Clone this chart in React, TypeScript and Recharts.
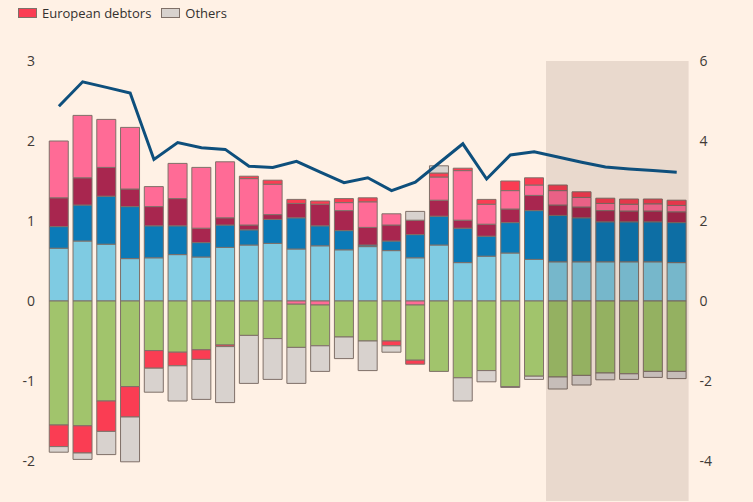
import { ComposedChart, Bar, Line, XAxis, YAxis, ReferenceArea } from "recharts"

const years = [
  2005, 2006, 2007, 2008, 2009, 2010, 2011, 2012, 2013, 2014, 2015, 2016, 2017, 2018,
  2019, 2020, 2021, 2022, 2023, 2024, 2025, 2026, 2027, 2028, 2029, 2030, 2031,
]

// stacked components, % of world GDP (left axis)
const sky = [
  0.66, 0.75, 0.71, 0.53, 0.54, 0.58, 0.55, 0.67, 0.7, 0.72, 0.65, 0.69, 0.64, 0.68,
  0.63, 0.54, 0.7, 0.48, 0.56, 0.6, 0.52, 0.49, 0.49, 0.49, 0.49, 0.49, 0.48,
]
const blue = [
  0.27, 0.45, 0.6, 0.65, 0.4, 0.36, 0.18, 0.28, 0.19, 0.3, 0.39, 0.25, 0.24, 0.02,
  0.12, 0.29, 0.36, 0.43, 0.25, 0.38, 0.61, 0.58, 0.55, 0.5, 0.5, 0.5, 0.5,
]
const wine = [
  0.36, 0.34, 0.36, 0.22, 0.24, 0.34, 0.18, 0.09, 0.06, 0.06, 0.18, 0.27, 0.25, 0.22,
  0.2, 0.18, 0.2, 0.1, 0.15, 0.17, 0.19, 0.13, 0.135, 0.14, 0.135, 0.135, 0.135,
]
const pink = [
  0.71, 0.78, 0.6, 0.77, 0.25, 0.44, 0.76, 0.7, 0.58, 0.38, -0.04, -0.05, 0.1, 0.32,
  0.14, -0.05, 0.29, 0.62, 0.25, 0.23, 0.13, 0.18, 0.12, 0.09, 0.085, 0.09, 0.08,
]
const green = [
  -1.55, -1.56, -1.25, -1.07, -0.62, -0.64, -0.61, -0.55, -0.43, -0.47, -0.54, -0.51, -0.45, -0.5,
  -0.5, -0.69, -0.88, -0.96, -0.87, -1.07, -0.94, -0.95, -0.93, -0.9, -0.91, -0.88, -0.88,
]
const europeanDebtors = [
  -0.27, -0.34, -0.38, -0.38, -0.22, -0.17, -0.12, -0.02, 0.03, 0.05, 0.05, 0.04, 0.05, 0.05,
  -0.06, -0.05, 0.05, 0.03, 0.06, 0.12, 0.09, 0.07, 0.07, 0.065, 0.065, 0.06, 0.065,
]
const others = [
  -0.07, -0.08, -0.29, -0.56, -0.3, -0.44, -0.5, -0.7, -0.6, -0.51, -0.45, -0.32, -0.27, -0.37,
  -0.08, 0.11, 0.09, -0.29, -0.14, -0.01, -0.04, -0.15, -0.12, -0.085, -0.07, -0.075, -0.09,
]

// line, right axis
const total = [
  4.87, 5.48, 5.34, 5.2, 3.54, 3.96, 3.83, 3.79, 3.37, 3.34, 3.49, 3.22, 2.96, 3.08,
  2.76, 2.97, 3.45, 3.93, 3.05, 3.65, 3.73, 3.6, 3.47, 3.35, 3.3, 3.26, 3.22,
]

const leftTicks = [-2, -1, 0, 1, 2, 3]
const rightTicks = [-4, -2, 0, 2, 4, 6]

const data = years.map((year, i) => ({
  year,
  sky: sky[i],
  blue: blue[i],
  wine: wine[i],
  pink: pink[i],
  green: green[i],
  europeanDebtors: europeanDebtors[i],
  others: others[i],
  total: total[i],
}))

const outline = "#7f7068"
const tickStyle = { fill: "#403a36", fontSize: 14 }

const series = [
  { key: "sky", color: "#7fcbe2" },
  { key: "blue", color: "#0b7ab7" },
  { key: "wine", color: "#a8264f" },
  { key: "pink", color: "#ff6b96" },
  { key: "green", color: "#a1c46c" },
  { key: "europeanDebtors", color: "#fa3d53" },
  { key: "others", color: "#d8d2ce" },
]

function LegendItem({ color, label }: { color: string; label: string }) {
  return (
    <span style={{ display: "inline-flex", alignItems: "center", marginRight: 10 }}>
      <span
        style={{
          display: "inline-block",
          width: 17,
          height: 8,
          background: color,
          border: `1px solid ${outline}`,
          marginRight: 5,
        }}
      />
      <span>{label}</span>
    </span>
  )
}

export default function App() {
  return (
    <div
      style={{
        position: "absolute",
        top: 0,
        left: 0,
        width: 753,
        height: 502,
        overflow: "hidden",
        background: "#fff1e5",
        fontFamily: "'Open Sans', sans-serif",
      }}
    >
      <div
        style={{
          position: "absolute",
          top: 4,
          left: 18,
          fontSize: 13,
          color: "#33302e",
          display: "flex",
        }}
      >
        <LegendItem color="#fa3d53" label="European debtors" />
        <LegendItem color="#d8d2ce" label="Others" />
      </div>
      <ComposedChart
        width={753}
        height={502}
        data={data}
        stackOffset="sign"
        barCategoryGap="9.5%"
        margin={{ top: 61, right: 0, bottom: 1, left: 0 }}
      >
        <XAxis dataKey="year" hide />
        <YAxis
          yAxisId="left"
          width={47}
          domain={[-2.5, 3]}
          ticks={leftTicks}
          axisLine={false}
          tickLine={false}
          tickMargin={6}
          tick={tickStyle}
        />
        <YAxis
          yAxisId="right"
          orientation="right"
          width={64.4}
          domain={[-5, 6]}
          ticks={rightTicks}
          axisLine={false}
          tickLine={false}
          tickMargin={5}
          tick={{ ...tickStyle, textAnchor: "start" }}
        />
        {series.map((s) => (
          <Bar
            key={s.key}
            yAxisId="left"
            dataKey={s.key}
            stackId="a"
            fill={s.color}
            stroke={outline}
            strokeWidth={1}
            isAnimationActive={false}
          />
        ))}
        <ReferenceArea
          yAxisId="left"
          x1={2026}
          x2={2031}
          y1={-2.5}
          y2={3}
          fill="#2a0c00"
          fillOpacity={0.1}
          stroke="none"
          zIndex={350}
        />
        <Line
          yAxisId="right"
          dataKey="total"
          type="linear"
          stroke="#0e4f7c"
          strokeWidth={3}
          dot={false}
          isAnimationActive={false}
        />
      </ComposedChart>
    </div>
  )
}
